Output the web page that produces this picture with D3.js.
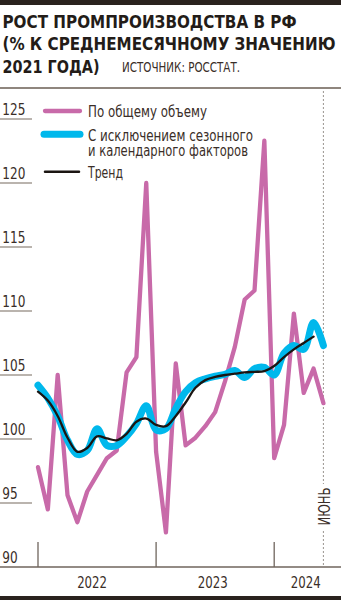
<!DOCTYPE html>
<html><head><meta charset="utf-8">
<script src="https://cdn.jsdelivr.net/npm/d3@7"></script>
<style>
html,body{margin:0;padding:0;background:#fff;}
svg{display:block;}
text{font-family:"Liberation Sans Narrow","DejaVu Sans Condensed","Arial Narrow",sans-serif;}
</style></head>
<body>
<div id="chart"></div>
<script>
// ---- data ----
const months = d3.timeMonths(new Date(2022,0,1), new Date(2024,6,1)); // Jan 2022 .. Jun 2024
const totalVolume = [97.8,94.5,105.0,95.6,93.5,95.9,97.2,98.5,99.1,105.2,106.4,120.0,
                     99.0,92.7,105.9,99.5,100.1,101.0,102.1,104.5,107.2,110.9,111.6,123.3,
                     98.5,101.1,109.8,103.6,105.5,102.8];
const seasonAdj   = [104.2,103.2,101.8,99.9,98.8,99.1,100.8,99.5,99.5,100.2,101.2,102.6,
                     100.7,100.8,102.4,103.7,104.4,104.7,104.9,105.05,105.35,104.8,105.5,105.6,
                     105.0,106.7,107.3,107.0,109.1,107.3];
const trend       = [103.7,103.0,101.8,100.1,99.0,99.3,100.2,100.05,99.9,100.4,101.35,101.6,
                     101.1,101.0,101.8,102.85,104.0,104.6,104.85,105.0,105.1,105.2,105.25,105.3,
                     105.7,106.4,107.0,107.5,108.0];
const yTicks = [90,95,100,105,110,115,120,125];
const years = ["2022","2023","2024"];
const yearStartIdx = [0,12,24];
const yearLabelIdx = [5.5,17.75,27.2];
const seriesNames = ["По общему объему","С исключением сезонного","и календарного факторов","Тренд"];
const titleLines = ["РОСТ ПРОМПРОИЗВОДСТВА В РФ","(% К СРЕДНЕМЕСЯЧНОМУ ЗНАЧЕНИЮ","2021 ГОДА)"];
const sourceText = "ИСТОЧНИК: РОССТАТ.";
const lastMonthLabel = "ИЮНЬ";

// ---- layout ----
const W = 341, H = 600;
const C = {pink:"#c86aa9", cyan:"#00b8ec", black:"#1b1512", text:"#3a2e28", grid:"#8c8279", dark:"#2a221e"};
const svg = d3.select("#chart").append("svg").attr("width",W).attr("height",H);

const x = d3.scaleLinear().domain([0, months.length-1]).range([38, 323.4]);
const y = d3.scaleLinear().domain([90,125]).range([567,119]);

function fit(sel, len){ return sel.attr("textLength",len).attr("lengthAdjust","spacingAndGlyphs"); }

// top & bottom bars
svg.append("rect").attr("x",0).attr("y",0).attr("width",W).attr("height",5).attr("fill",C.dark);
svg.append("rect").attr("x",0).attr("y",596).attr("width",W).attr("height",4).attr("fill",C.dark);

// title
const tl = [[28.3,294],[50,333],[73.3,97]];
titleLines.forEach((t,i)=>{
  fit(svg.append("text").attr("x",2.5).attr("y",tl[i][0]).text(t)
    .attr("font-size",18).attr("font-weight","bold").attr("fill","#231c18"), tl[i][1]);
});
fit(svg.append("text").attr("x",122).attr("y",71.7).text(sourceText)
  .attr("font-size",13.5).attr("fill",C.text), 118);
svg.append("line").attr("x1",0).attr("x2",W).attr("y1",88).attr("y2",88)
  .attr("stroke","#8f867e").attr("stroke-width",2);

// y labels with underline
yTicks.forEach(v=>{
  if (v !== 90) {
    svg.append("line").attr("x1",0).attr("x2",32).attr("y1",y(v)).attr("y2",y(v))
      .attr("stroke",C.grid).attr("stroke-width",1.2);
  }
  const s = String(v);
  fit(svg.append("text").attr("x",2.3).attr("y",y(v)-4.3).text(s)
    .attr("font-size",15.5).attr("fill",C.text), s.length*7.7);
});

// x axis
svg.append("line").attr("x1",0).attr("x2",W).attr("y1",y(90)).attr("y2",y(90))
  .attr("stroke","#6f655d").attr("stroke-width",1.5);
yearStartIdx.forEach(i=>{
  svg.append("line").attr("x1",x(i)).attr("x2",x(i)).attr("y1",542).attr("y2",y(90))
    .attr("stroke","#6f655d").attr("stroke-width",1.3);
});
years.forEach((t,i)=>{
  fit(svg.append("text").attr("x",x(yearLabelIdx[i])-15).attr("y",588.3)
    .text(t).attr("font-size",16.5).attr("fill",C.text), 30);
});

// June dashed line + label
const xl = x(months.length-1);
[[91,484],[531,567]].forEach(s=>{
  svg.append("line").attr("x1",xl).attr("x2",xl).attr("y1",s[0]).attr("y2",s[1])
    .attr("stroke","#9a9490").attr("stroke-width",1).attr("stroke-dasharray","2,2");
});
fit(svg.append("text").attr("transform",`translate(${xl+6.5},525.5) rotate(-90)`)
  .text(lastMonthLabel).attr("font-size",15).attr("fill",C.text), 38);

// lines
const linLine = d3.line().x((d,i)=>x(i)).y(d=>y(d));
const smoothLine = d3.line().x((d,i)=>x(i)).y(d=>y(d)).curve(d3.curveCatmullRom.alpha(0.5));
svg.append("path").attr("d",linLine(totalVolume)).attr("fill","none")
  .attr("stroke",C.pink).attr("stroke-width",4.3).attr("stroke-linejoin","round").attr("stroke-linecap","round");
svg.append("path").attr("d",smoothLine(seasonAdj)).attr("fill","none")
  .attr("stroke",C.cyan).attr("stroke-width",7).attr("stroke-linejoin","round").attr("stroke-linecap","round");
svg.append("path").attr("d",smoothLine(trend)).attr("fill","none")
  .attr("stroke",C.black).attr("stroke-width",2.3).attr("stroke-linejoin","round").attr("stroke-linecap","round");

// legend
const lg = [
  {c:C.pink, w:4.3, y:111, x1:45, x2:80},
  {c:C.cyan, w:7, y:134.3, x1:44, x2:80},
  {c:C.black, w:2.5, y:171.7, x1:45, x2:79}
];
lg.forEach(d=>{
  svg.append("line").attr("x1",d.x1).attr("x2",d.x2).attr("y1",d.y).attr("y2",d.y)
    .attr("stroke",d.c).attr("stroke-width",d.w).attr("stroke-linecap","round");
});
const lt = [116.7,141,156.3,178.3];
const lw = [119,165,160,35];
seriesNames.forEach((t,i)=>{
  fit(svg.append("text").attr("x",88).attr("y",lt[i]).text(t).attr("font-size",15).attr("fill",C.text), lw[i]);
});
</script>
</body></html>
